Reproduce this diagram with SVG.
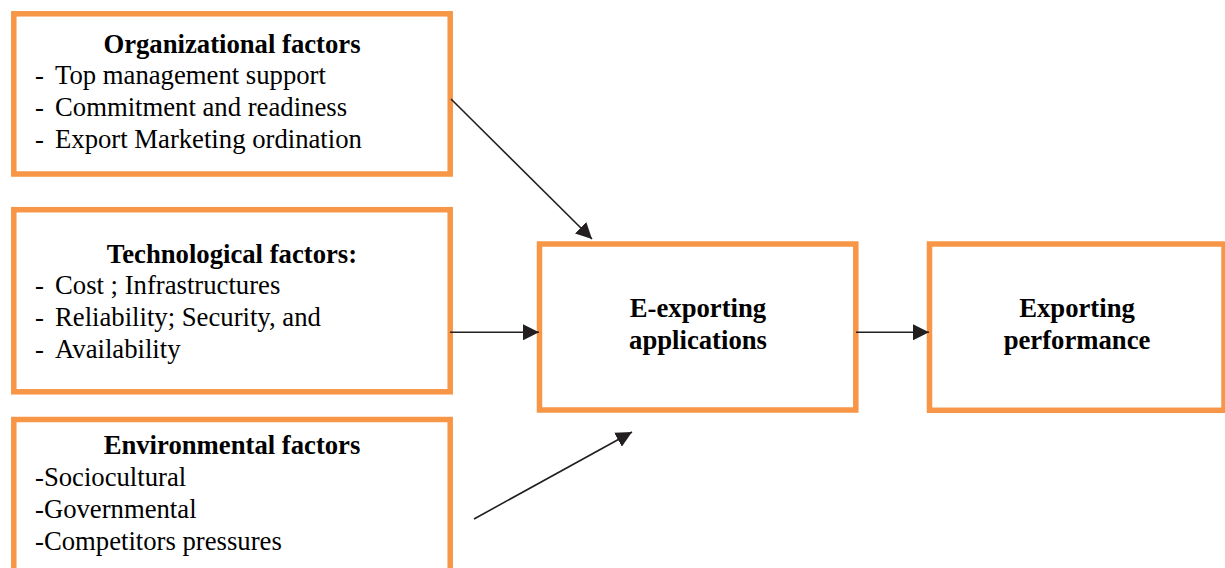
<svg xmlns="http://www.w3.org/2000/svg" width="1225" height="568" viewBox="0 0 1225 568">
  <defs>
    <style>
      .box { fill: #ffffff; stroke: #F79646; stroke-width: 5.5; }
      .t { font-family: "Liberation Serif", "Times New Roman", serif; font-size: 26.7px; fill: #000000; }
      .b { font-weight: bold; }
      .c { text-anchor: middle; }
      .edge { stroke: #231f20; stroke-width: 1.6; fill: none; }
    </style>
    <marker id="arrow" markerUnits="userSpaceOnUse" markerWidth="17" markerHeight="16" refX="16" refY="8" orient="auto">
      <path d="M0,0 L16,8 L0,16 Z" fill="#231f20"/>
    </marker>
  </defs>
  <rect x="0" y="0" width="1225" height="568" fill="#ffffff"/>

  <g id="org">
    <rect class="box" x="13.8" y="13.8" width="436.4" height="160.2"/>
    <text class="t b c" x="232" y="53">Organizational factors</text>
    <text class="t" x="35" y="84">-</text><text class="t" x="55" y="84">Top management support</text>
    <text class="t" x="35" y="116">-</text><text class="t" x="55" y="116">Commitment and readiness</text>
    <text class="t" x="35" y="148">-</text><text class="t" x="55" y="148">Export Marketing ordination</text>
  </g>

  <g id="tech">
    <rect class="box" x="13.8" y="209.7" width="436.4" height="182.1"/>
    <text class="t b c" x="232" y="263">Technological factors:</text>
    <text class="t" x="35" y="294">-</text><text class="t" x="55" y="294">Cost ; Infrastructures</text>
    <text class="t" x="35" y="326">-</text><text class="t" x="55" y="326">Reliability; Security, and</text>
    <text class="t" x="35" y="358">-</text><text class="t" x="55" y="358">Availability</text>
  </g>

  <g id="env">
    <rect class="box" x="13.8" y="419.5" width="436.4" height="200"/>
    <text class="t b c" x="232" y="454">Environmental factors</text>
    <text class="t" x="35" y="486">-Sociocultural</text>
    <text class="t" x="35" y="518">-Governmental</text>
    <text class="t" x="35" y="550">-Competitors pressures</text>
  </g>

  <g id="eexport">
    <rect class="box" x="539.5" y="244" width="316.3" height="166"/>
    <text class="t b c" x="698" y="317">E-exporting</text>
    <text class="t b c" x="698" y="349">applications</text>
  </g>

  <g id="perf">
    <rect class="box" x="929.5" y="244" width="294.5" height="166.3"/>
    <text class="t b c" x="1077" y="317">Exporting</text>
    <text class="t b c" x="1077" y="349">performance</text>
  </g>

  <g id="connectors">
    <line class="edge" x1="451" y1="99" x2="592" y2="239" marker-end="url(#arrow)"/>
    <line class="edge" x1="450" y1="332.3" x2="539" y2="332.3" marker-end="url(#arrow)"/>
    <line class="edge" x1="474" y1="519" x2="632" y2="432" marker-end="url(#arrow)"/>
    <line class="edge" x1="856" y1="332.3" x2="929" y2="332.3" marker-end="url(#arrow)"/>
  </g>
</svg>
